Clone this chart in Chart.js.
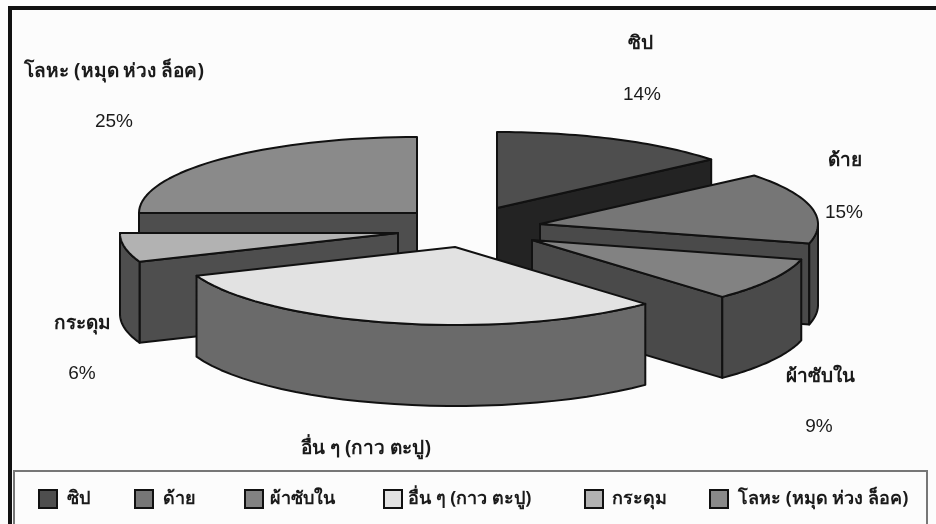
<!DOCTYPE html>
<html>
<head>
<meta charset="utf-8">
<style>
  html, body { margin: 0; padding: 0; background: #fff; }
  #wrap { width: 936px; height: 524px; }
</style>
<script src="https://cdn.jsdelivr.net/npm/chart.js@4/dist/chart.umd.min.js"></script>
</head>
<body>
<div id="wrap"><canvas id="pieChart" width="936" height="524"></canvas></div>
<script>
const categories = ["ซิป", "ด้าย", "ผ้าซับใน", "อื่น ๆ (กาว ตะปู)", "กระดุม", "โลหะ (หมุด ห่วง ล็อค)"];
const shares = [14, 15, 9, 31, 6, 25];

const topColors = ["#4e4e4e", "#767676", "#828282", "#e2e2e2", "#b2b2b2", "#8a8a8a"];
const sideColors = ["#232323", "#4a4a4a", "#4a4a4a", "#6a6a6a", "#4e4e4e", "#4e4e4e"];

// where each slice's tip ends up, relative to the pie centre
const sliceShift = [[29, -14], [72, 2], [64, 18], [-13, 25], [-70, 11], [-51, -9]];
const drawOrder = [5, 0, 1, 4, 2, 3];
const labelSpots = [[640, 44, 642, 95], [845, 161, 844, 213], [820, 377, 819, 427], [366, 449, 366, 0], [82, 324, 82, 374], [114, 72, 114, 122]];
const legendBoxX = [39, 135, 245, 384, 585, 710];
const legendTextX = [67, 163, 270, 408, 612, 738];

const RX = 278, RY_BACK = 76, RY_FRONT = 78, DEPTH = 81;

function rim(tip, a) {
    const c = Math.cos(a), ry = c > 0 ? RY_BACK : RY_FRONT;
    return [tip[0] + RX * Math.sin(a), tip[1] - ry * c];
}

function tracePolygon(ctx, pts, fill) {
    ctx.beginPath();
    pts.forEach(function (p, i) { i ? ctx.lineTo(p[0], p[1]) : ctx.moveTo(p[0], p[1]); });
    ctx.closePath();
    ctx.fillStyle = fill;
    ctx.fill();
    ctx.stroke();
}

function extrude(pts) {
    const out = pts.slice();
    for (let i = pts.length - 1; i >= 0; i--) out.push([pts[i][0], pts[i][1] + DEPTH]);
    return out;
}

const pie3d = {
    id: "pie3d",
    beforeDraw(chart) {
        const ctx = chart.ctx;
        ctx.save();
        ctx.fillStyle = "#fcfcfc";
        ctx.fillRect(0, 0, 936, 524);
        ctx.strokeStyle = "#111";
        ctx.lineWidth = 4;
        ctx.strokeRect(10, 8, 940, 540);
        ctx.strokeStyle = "#777";
        ctx.lineWidth = 2;
        ctx.strokeRect(14, 471, 913, 70);
        ctx.restore();
    },
    beforeDatasetsDraw(chart) {
        const ctx = chart.ctx;
        const arcs = chart.getDatasetMeta(0).data;
        ctx.save();
        ctx.lineWidth = 2;
        ctx.lineJoin = "round";
        ctx.strokeStyle = "#111";
        drawOrder.forEach(function (i) {
            // the angles come from the doughnut controller, 0 at twelve o'clock
            const a0 = arcs[i].startAngle + Math.PI / 2;
            const a1 = arcs[i].endAngle + Math.PI / 2;
            const tip = [arcs[i].x + sliceShift[i][0], arcs[i].y + sliceShift[i][1]];
            const mid = rim(tip, (a0 + a1) / 2);
            [a0, a1].forEach(function (a) {
                const p = rim(tip, a);
                const vx = p[0] - tip[0], vy = p[1] - tip[1];
                if (Math.abs(vx) < 1) return;
                if (mid[1] - tip[1] < vy / vx * (mid[0] - tip[0])) {
                    tracePolygon(ctx, extrude([tip, p]), sideColors[i]);
                }
            });
            const from = Math.max(a0, Math.PI / 2), to = Math.min(a1, Math.PI * 1.5);
            if (to > from) {
                const wall = [];
                for (let s = 0; s <= 30; s++) wall.push(rim(tip, from + (to - from) * s / 30));
                tracePolygon(ctx, extrude(wall), sideColors[i]);
            }
            const top = [tip];
            for (let s = 0; s <= 40; s++) top.push(rim(tip, a0 + (a1 - a0) * s / 40));
            tracePolygon(ctx, top, topColors[i]);
        });
        ctx.restore();
        return false;
    },
    afterDraw(chart) {
        const ctx = chart.ctx;
        ctx.save();
        ctx.fillStyle = "#1a1a1a";
        ctx.textAlign = "center";
        ctx.textBaseline = "middle";
        categories.forEach(function (name, i) {
            const s = labelSpots[i];
            ctx.font = "bold 19px 'Noto Sans', 'DejaVu Sans', sans-serif";
            ctx.fillText(name, s[0], s[1]);
            if (s[3]) {
                ctx.font = "19px 'Liberation Sans', sans-serif";
                ctx.fillText(shares[i] + "%", s[2], s[3]);
            }
        });
        // legend row, spaced by hand because the built-in one wraps at this width
        ctx.textAlign = "left";
        ctx.font = "bold 18px 'Noto Sans', 'DejaVu Sans', sans-serif";
        ctx.lineWidth = 2;
        ctx.strokeStyle = "#111";
        categories.forEach(function (name, i) {
            ctx.fillStyle = topColors[i];
            ctx.fillRect(legendBoxX[i], 490, 18, 18);
            ctx.strokeRect(legendBoxX[i], 490, 18, 18);
            ctx.fillStyle = "#1a1a1a";
            ctx.fillText(name, legendTextX[i], 499);
        });
        ctx.restore();
    }
};

new Chart(document.getElementById("pieChart"), {
    type: "pie",
    plugins: [pie3d],
    data: {
        labels: categories,
        datasets: [{
            data: shares,
            backgroundColor: topColors,
            borderColor: "#111",
            borderWidth: 2
        }]
    },
    options: {
        responsive: false,
        animation: false,
        layout: { padding: { top: 0, bottom: 80, left: 0, right: 0 } },
        plugins: {
            tooltip: { enabled: false },
            legend: { display: false }
        }
    }
});
</script>
</body>
</html>
